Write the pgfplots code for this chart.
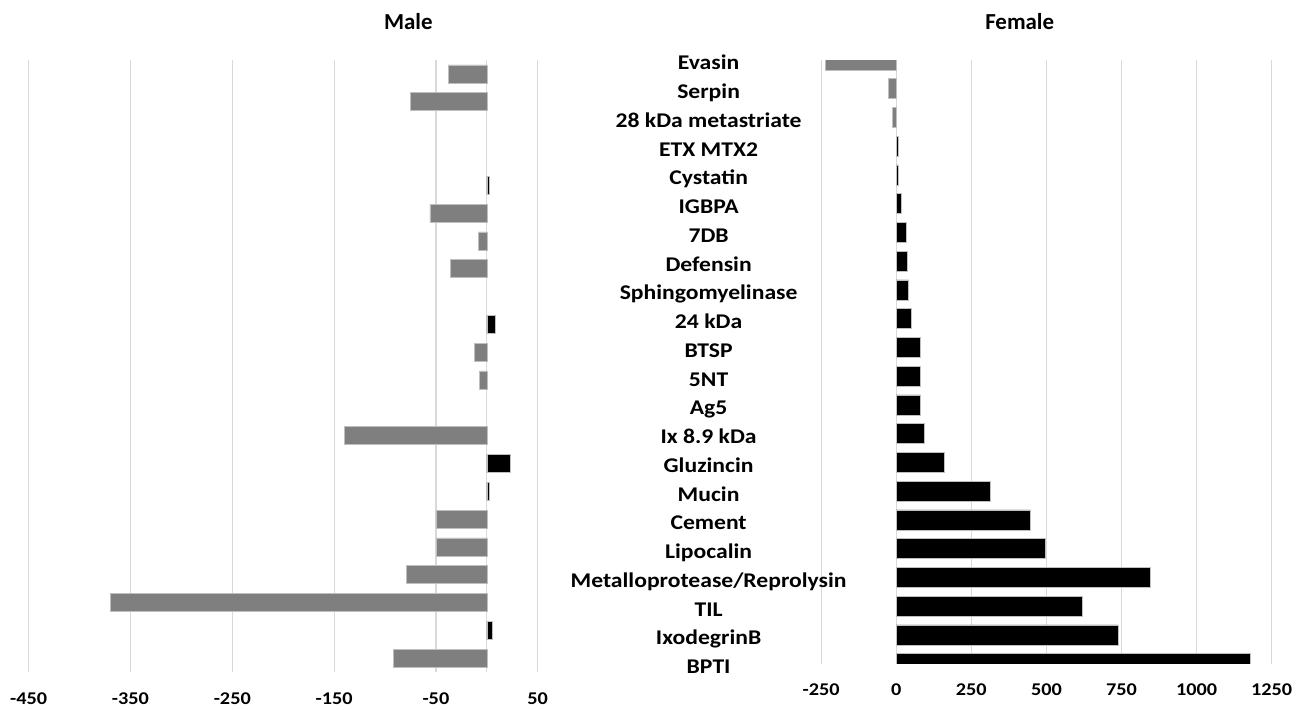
\documentclass[border=0pt]{standalone}
\usepackage{fontspec}
\setmainfont{Carlito}
\newfontfamily\widefont{Carlito}[FakeStretch=1.13]
\usepackage{pgfplots}
\usepackage{pgfplotstable}
\pgfplotsset{compat=1.18}

\definecolor{barneg}{HTML}{7F7F7F}
\definecolor{gridgray}{HTML}{D9D9D9}
\definecolor{edgegray}{HTML}{BFBFBF}

% position (1 = top row), male change, female change
\pgfplotstableread{
pos male female
1  -38    -236
2  -75    -25
3  0      -13
4  0      7
5  2      6
6  -56    18
7  -8.5   35
8  -36    36
9  0      41
10 8      49
11 -12    79
12 -7     81
13 0      81
14 -140   95
15 23     160
16 2      314
17 -50    447
18 -49.5  497
19 -79    846
20 -370   619
21 5.5    738
22 -92    1178
}\datatable

\pgfplotsset{
  panel/.style={
    scale only axis,
    y dir=reverse,
    axis line style={draw=none},
    major tick length=0pt,
    xmajorgrids,
    grid style={draw=gridgray, line width=1.2bp},
    /pgf/number format/assume math mode=true,
    /pgf/number format/1000 sep={},
    xticklabel style={font=\widefont\bfseries\fontsize{18}{18}\selectfont,
      anchor=base, yshift=-32.2bp},
    clip=true,
  },
  negbar/.style={xbar, bar shift=0pt, fill=barneg, draw=edgegray, line width=0.5bp},
  posbar/.style={xbar, bar shift=0pt, fill=black, draw=edgegray, line width=0.5bp},
}

\begin{document}
\begin{tikzpicture}
\useasboundingbox (0,0) rectangle (1307bp,710bp);

% Male panel
\begin{axis}[panel,
  at={(28.7bp,650bp)}, anchor=north west,
  width=509bp, height=612bp,
  xmin=-450, xmax=50, ymin=0.5, ymax=22.5,
  xtick={-450,-350,...,50}, ytick=\empty,
  extra x ticks={0}, extra x tick labels={},
  extra x tick style={grid=major},
  bar width=18bp,
]
\addplot[negbar, restrict x to domain=-1000:-0.001] table[x=male, y=pos] {\datatable};
\addplot[posbar, restrict x to domain=0.001:2000] table[x=male, y=pos] {\datatable};
\end{axis}

% Female panel
\begin{axis}[panel,
  at={(821.1bp,650bp)}, anchor=north west,
  width=450.6bp, height=603.7bp,
  xmin=-250, xmax=1250, ymin=1, ymax=22,
  xtick={-250,0,...,1250},
  ytick={1,...,22},
  yticklabels={Evasin, Serpin, 28 kDa metastriate, ETX MTX2, Cystatin, IGBPA, 7DB,
    Defensin, Sphingomyelinase, 24 kDa, BTSP, 5NT, Ag5, Ix 8.9 kDa, Gluzincin, Mucin,
    Cement, Lipocalin, Metalloprotease/Reprolysin, TIL, IxodegrinB, BPTI},
  yticklabel style={font=\widefont\bfseries\fontsize{21}{21}\selectfont, anchor=base,
    xshift=-112.5bp, yshift=-9.8bp},
  bar width=20bp,
]
\addplot[negbar, restrict x to domain=-1000:-0.001] table[x=female, y=pos] {\datatable};
\addplot[posbar, restrict x to domain=0.001:2000] table[x=female, y=pos] {\datatable};
\end{axis}

\node[anchor=base, font=\bfseries\fontsize{23}{23}\selectfont] at (408.3bp,680.5bp) {Male};
\node[anchor=base, font=\bfseries\fontsize{23}{23}\selectfont] at (1019.7bp,680.5bp) {Female};
\end{tikzpicture}
\end{document}
